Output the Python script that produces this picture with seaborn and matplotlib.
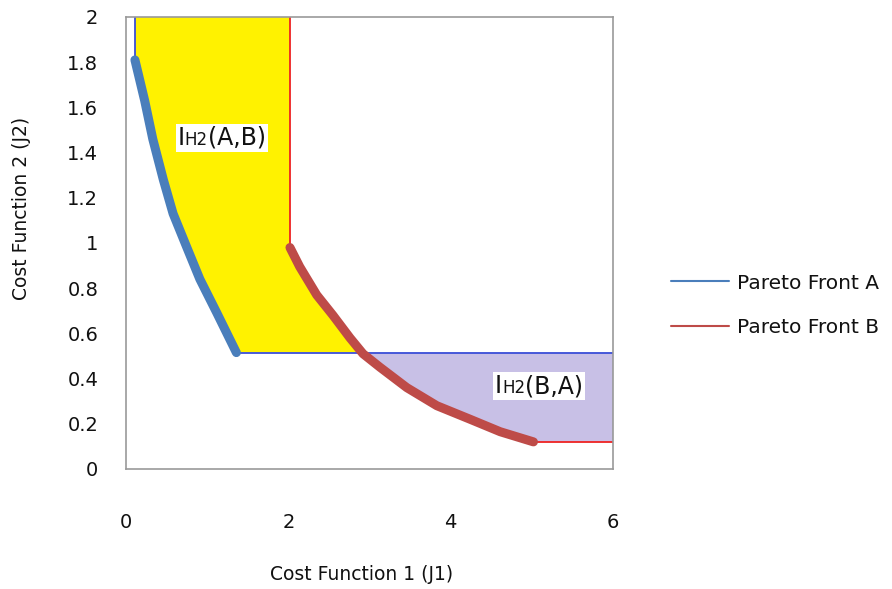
import numpy as np
import pandas as pd
import matplotlib
matplotlib.use("Agg")
import matplotlib.pyplot as plt
import seaborn as sns
from matplotlib.lines import Line2D
from matplotlib.offsetbox import TextArea, HPacker, AnnotationBbox

sns.set_style("white")
plt.rcParams['font.family'] = ['DejaVu Sans']
plt.rcParams['text.color'] = '#111111'
plt.rcParams['axes.labelcolor'] = '#111111'
plt.rcParams['xtick.color'] = '#111111'
plt.rcParams['ytick.color'] = '#111111'

# Pareto front A (J1, J2)
a_j1 = [0.11, 0.23, 0.33, 0.46, 0.58, 0.75, 0.91, 1.12, 1.36]
a_j2 = [1.81, 1.63, 1.46, 1.28, 1.13, 0.98, 0.84, 0.69, 0.515]
# Pareto front B (J1, J2)
b_j1 = [2.02, 2.14, 2.35, 2.55, 2.76, 2.92, 3.13, 3.46, 3.83, 4.24, 4.61, 5.02]
b_j2 = [0.98, 0.895, 0.77, 0.68, 0.58, 0.51, 0.45, 0.36, 0.28, 0.22, 0.165, 0.12]
x_max, y_max = 6, 2
x_ticks = [0, 2, 4, 6]
y_ticks = [0, 0.2, 0.4, 0.6, 0.8, 1, 1.2, 1.4, 1.6, 1.8, 2]
labels = ["Pareto Front A", "Pareto Front B"]

blue, red = "#4a7ebb", "#be4b48"

fig = plt.figure(figsize=(8.92, 5.89), dpi=100)
ax = fig.add_axes([126/892, 120/589, 487/892, 452/589])

a_j1, a_j2, b_j1, b_j2 = map(np.array, (a_j1, a_j2, b_j1, b_j2))
ref_a = a_j2[-1]
# where front B crosses the horizontal level of A's last point
x_cross = np.interp(ref_a, b_j2[::-1], b_j1[::-1])

# yellow region: dominated by A, not by B
up = b_j2 > ref_a
yx = np.concatenate([[a_j1[0], b_j1[0]], b_j1[up], [x_cross], a_j1[::-1]])
yy = np.concatenate([[y_max, y_max], b_j2[up], [ref_a], a_j2[::-1]])
ax.fill(yx, yy, color="#fff200", lw=0, zorder=1)

# purple region: dominated by B, not by A
lo = b_j2 < ref_a
px = np.concatenate([[x_cross, x_max, x_max], b_j1[lo][::-1]])
py = np.concatenate([[ref_a, ref_a, b_j2[-1]], b_j2[lo][::-1]])
ax.fill(px, py, color="#c8c0e6", lw=0, zorder=1)

# attainment boundaries
ax.plot([a_j1[0], a_j1[0]], [a_j2[0], y_max], color="#3b4fd8", lw=1.3, zorder=2)
ax.plot([a_j1[-1], x_max], [a_j2[-1], a_j2[-1]], color="#3b4fd8", lw=1.3, zorder=2)
ax.plot([b_j1[0], b_j1[0]], [b_j2[0], y_max], color="#ee2222", lw=1.3, zorder=2)
ax.plot([b_j1[-1], x_max], [b_j2[-1], b_j2[-1]], color="#ee2222", lw=1.3, zorder=2)

dfa = pd.DataFrame({"J1": a_j1, "J2": a_j2})
dfb = pd.DataFrame({"J1": b_j1, "J2": b_j2})
sns.lineplot(data=dfa, x="J1", y="J2", sort=False, color=blue, lw=6.5,
             solid_capstyle="round", solid_joinstyle="round", ax=ax, zorder=3)
sns.lineplot(data=dfb, x="J1", y="J2", sort=False, color=red, lw=6.5,
             solid_capstyle="round", solid_joinstyle="round", ax=ax, zorder=3)


def ih2_label(pair, xy):
    tp = dict(color="#111111")
    parts = [TextArea("I", textprops=dict(fontsize=17, **tp)),
             TextArea("H2", textprops=dict(fontsize=12, **tp)),
             TextArea(pair, textprops=dict(fontsize=17, **tp))]
    box = HPacker(children=parts, align="baseline", pad=0, sep=0)
    ab = AnnotationBbox(box, xy, frameon=True, pad=0.15, zorder=4,
                        bboxprops=dict(facecolor="white", edgecolor="none"))
    ax.add_artist(ab)


ih2_label("(A,B)", (1.18, 1.465))
ih2_label("(B,A)", (5.09, 0.367))

ax.set_xlim(0, x_max)
ax.set_ylim(0, y_max)
ax.set_xticks(x_ticks)
ax.set_yticks(y_ticks)
ax.set_yticklabels([f"{v:g}" for v in y_ticks])
ax.tick_params(axis="x", length=0, pad=32, labelsize=14)
ax.tick_params(axis="y", length=0, pad=20, labelsize=14)
for s in ax.spines.values():
    s.set_color("#999999")
    s.set_linewidth(1.2)

ax.set_xlabel("Cost Function 1 (J1)", fontsize=13.5)
ax.set_ylabel("Cost Function 2 (J2)", fontsize=13.5)
ax.xaxis.set_label_coords(0.483, -0.213)
ax.yaxis.set_label_coords(-0.195, 0.577)

handles = [Line2D([], [], color=blue, lw=1.5), Line2D([], [], color=red, lw=1.5)]
fig.legend(handles, labels, loc="center left", bbox_to_anchor=(0.743, 0.482),
           frameon=False, fontsize=14.5, handlelength=2.9, handletextpad=0.4,
           labelspacing=1.25, borderaxespad=0)

fig.savefig("out.png", dpi=100)
